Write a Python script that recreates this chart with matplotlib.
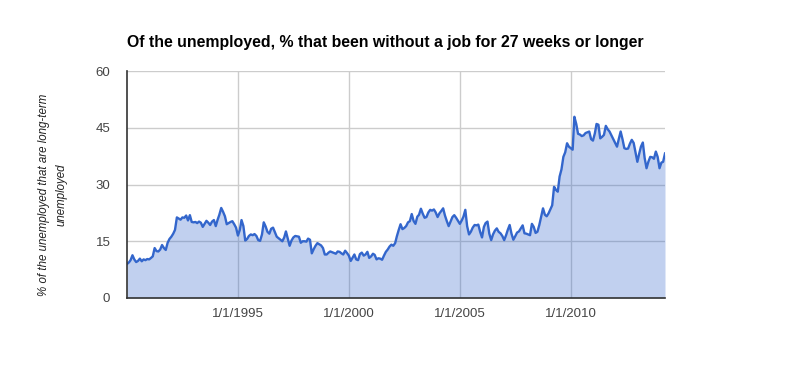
import pandas as pd
import matplotlib
matplotlib.use("Agg")
import matplotlib.pyplot as plt
import matplotlib.dates as mdate

# % of the unemployed out of work 27 weeks or longer, monthly from Jan 1990
y1990 = [9.0, 9.4, 10.0, 11.3, 10.2, 9.5, 9.8, 10.4, 9.7, 10.2, 10.0, 10.3]
y1991 = [10.2, 10.6, 11.0, 13.2, 12.4, 12.3, 12.8, 14.0, 13.2, 12.7, 14.6, 15.6]
y1992 = [16.2, 17.0, 18.0, 21.3, 21.0, 20.7, 21.3, 21.2, 21.8, 20.5, 21.9, 20.1]
y1993 = [20.0, 20.1, 19.8, 20.2, 19.9, 18.8, 19.6, 20.4, 19.9, 19.3, 20.2, 20.6]
y1994 = [19.0, 20.7, 22.0, 23.8, 22.8, 21.6, 19.5, 19.8, 20.1, 20.3, 19.5, 18.6]
y1995 = [16.5, 18.0, 20.6, 19.0, 15.2, 15.6, 16.4, 16.8, 16.6, 16.9, 16.4, 15.3]
y1996 = [15.1, 16.8, 20.0, 18.9, 17.5, 17.0, 18.3, 18.6, 17.4, 16.2, 15.8, 15.4]
y1997 = [15.0, 16.0, 17.6, 15.7, 13.8, 15.2, 16.0, 16.4, 16.3, 16.2, 14.6, 15.0]
y1998 = [15.0, 14.9, 15.7, 15.4, 11.8, 12.9, 13.8, 14.5, 14.2, 13.9, 13.2, 11.5]
y1999 = [11.5, 12.0, 12.3, 12.1, 11.9, 11.7, 12.3, 12.2, 11.8, 11.5, 12.5, 11.9]
y2000 = [11.2, 9.8, 10.6, 11.5, 10.2, 10.0, 11.6, 12.0, 11.2, 11.5, 12.2, 10.6]
y2001 = [11.0, 11.7, 11.4, 10.2, 10.5, 10.4, 10.1, 11.2, 12.2, 12.8, 13.6, 14.1]
y2002 = [13.8, 14.5, 16.3, 18.0, 19.5, 18.2, 18.5, 19.0, 20.0, 20.3, 22.2, 20.4]
y2003 = [19.6, 21.5, 22.0, 23.6, 22.3, 21.2, 21.4, 22.6, 23.3, 23.1, 23.4, 22.6]
y2004 = [21.4, 22.4, 23.0, 23.7, 21.8, 20.3, 19.0, 20.2, 21.4, 21.9, 21.2, 20.4]
y2005 = [19.6, 20.5, 21.5, 23.3, 19.0, 16.8, 17.5, 18.6, 19.3, 19.2, 19.4, 17.5]
y2006 = [16.0, 18.8, 19.8, 20.2, 17.0, 15.3, 16.8, 17.8, 18.4, 17.5, 17.1, 16.4]
y2007 = [15.3, 16.6, 18.0, 19.3, 17.0, 15.4, 16.3, 17.3, 17.6, 18.4, 19.2, 17.1]
y2008 = [17.0, 16.8, 16.6, 19.6, 18.8, 17.2, 17.5, 19.3, 21.5, 23.7, 22.0, 21.6]
y2009 = [22.4, 23.5, 24.5, 29.4, 28.6, 28.1, 32.1, 34.0, 37.3, 38.5, 40.9, 40.0]
y2010 = [39.6, 39.2, 47.9, 46.0, 43.4, 43.2, 42.8, 43.0, 43.6, 43.8, 44.0, 42.0]
y2011 = [41.6, 43.5, 46.0, 45.8, 42.2, 42.6, 43.1, 45.5, 44.6, 44.0, 43.0, 42.0]
y2012 = [41.0, 40.0, 42.0, 44.0, 42.0, 39.6, 39.4, 39.5, 40.8, 41.8, 41.0, 38.6]
y2013 = [36.0, 38.2, 40.0, 41.1, 37.0, 34.3, 36.0, 37.3, 37.2, 36.8, 38.7, 37.3]
y2014 = [34.3, 35.8, 36.0, 38.2]

values = (y1990 + y1991 + y1992 + y1993 + y1994 + y1995 + y1996 + y1997 + y1998
          + y1999 + y2000 + y2001 + y2002 + y2003 + y2004 + y2005 + y2006 + y2007
          + y2008 + y2009 + y2010 + y2011 + y2012 + y2013 + y2014)
dates = pd.date_range("1990-01-01", periods=len(values), freq="MS")

tick_years = [1995, 2000, 2005, 2010]
tick_labels = ["1/1/%d" % y for y in tick_years]
y_ticks = [0, 15, 30, 45, 60]

title = "Of the unemployed, % that been without a job for 27 weeks or longer"
ylabel = "% of the unemployed that are long-term\nunemployed"

blue = "#3366cc"

fig = plt.figure(figsize=(7.93, 3.71), dpi=100)
ax = fig.add_axes([127 / 793, 1 - 298 / 371, 538 / 793, 227 / 371])

ax.fill_between(dates, values, 0, color=blue, alpha=0.3, linewidth=0, zorder=2)
ax.plot(dates, values, color=blue, linewidth=1.7, zorder=3)

ax.set_xlim(dates[0], dates[-1])
ax.set_ylim(0, 60)
ax.set_yticks(y_ticks)
ax.set_xticks([pd.Timestamp("%d-01-01" % y) for y in tick_years])
ax.set_xticklabels(tick_labels)

ax.grid(True, color="#cccccc", linewidth=1, zorder=1)
ax.set_axisbelow(True)
for s in ["top", "right"]:
    ax.spines[s].set_visible(False)
for s in ["left", "bottom"]:
    ax.spines[s].set_color("#333333")
    ax.spines[s].set_linewidth(1.2)
    ax.spines[s].set_zorder(4)

ax.tick_params(axis="both", length=0, labelsize=9.5, labelcolor="#444444",
               labelfontfamily="Liberation Sans")
ax.tick_params(axis="y", pad=12)
ax.tick_params(axis="x", pad=7)

fig.text(127 / 793, 1 - 43 / 371, title, ha="left", va="center",
         fontsize=11.4, fontweight="bold", family="Liberation Sans", color="#000000")
fig.text(53 / 793, 1 - 195 / 371, ylabel, ha="center", va="center", rotation=90,
         fontsize=8.3, style="italic", family="Liberation Sans", color="#222222",
         multialignment="center", linespacing=1.6)

fig.savefig("out.png", dpi=100)
